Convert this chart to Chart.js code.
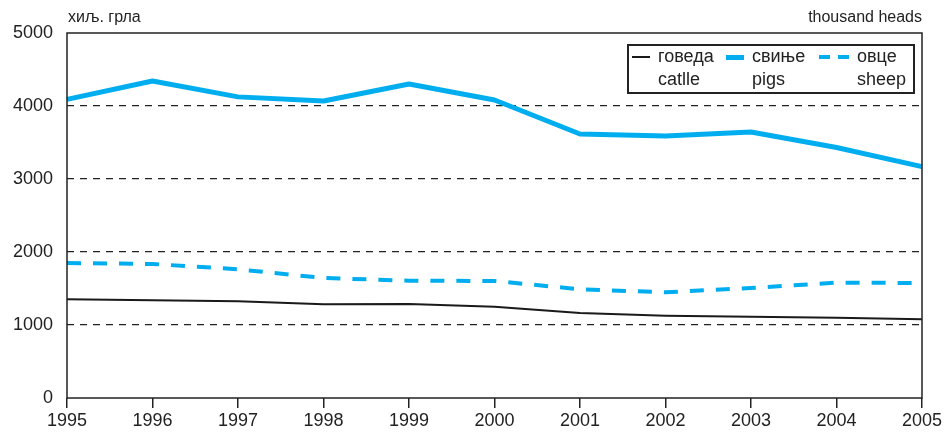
<!DOCTYPE html>
<html>
<head>
<meta charset="utf-8">
<script src="https://cdn.jsdelivr.net/npm/chart.js@4/dist/chart.umd.min.js"></script>
<style>
  html, body { margin: 0; padding: 0; background: #fff; }
  #wrap { position: relative; width: 948px; height: 437px; font-family: "Liberation Sans", Arial, sans-serif; }
  canvas { position: absolute; left: 0; top: 0; }
  .lbl { position: absolute; font-size: 16px; color: #222; white-space: nowrap; }
  #legend { position: absolute; left: 627px; top: 44px; width: 288px; height: 50px; border: 2px solid #222; box-sizing: border-box; background: #fff; }
  .li { position: absolute; top: 0; height: 100%; }
  .sw { position: absolute; }
  .t1 { position: absolute; top: 0px; font-size: 18px; color: #222; white-space: nowrap; }
  .t2 { position: absolute; top: 23px; font-size: 18px; color: #222; white-space: nowrap; }
</style>
</head>
<body>
<div id="wrap">
  <canvas id="c" width="948" height="437"></canvas>
  <div class="lbl" id="ylab" style="left:68px; top:8px;"></div>
  <div class="lbl" id="ylab2" style="right:26px; top:8px;"></div>
  <div id="legend"></div>
</div>
<script>
const years = ["1995","1996","1997","1998","1999","2000","2001","2002","2003","2004","2005"];
const cattle = [1352, 1338, 1324, 1283, 1288, 1251, 1164, 1127, 1114, 1100, 1078];
const pigs   = [4090, 4342, 4125, 4068, 4301, 4082, 3616, 3589, 3644, 3432, 3170];
const sheep  = [1849, 1836, 1763, 1644, 1607, 1603, 1489, 1448, 1507, 1580, 1575];
const seriesNamesSr = ["говеда", "свиње", "овце"];
const seriesNamesEn = ["catlle", "pigs", "sheep"];
const yTicks = [0, 1000, 2000, 3000, 4000, 5000];
const unitSr = "хиљ. грла";
const unitEn = "thousand heads";

document.getElementById('ylab').textContent = unitSr;
document.getElementById('ylab2').textContent = unitEn;

const colors = ["#1a1a1a", "#00AEEF", "#00AEEF"];
const widths = [2, 5, 4];
const dashes = [[], [], [14, 12]];

// legend
const leg = document.getElementById('legend');
const itemX = [3, 97, 190];
const swW = [18, 18, 30];
seriesNamesSr.forEach((n, i) => {
  const d = document.createElement('div');
  d.className = 'li';
  d.style.left = itemX[i] + 'px';
  const sw = document.createElement('div');
  sw.className = 'sw';
  sw.style.left = '0px';
  sw.style.width = swW[i] + 'px';
  sw.style.height = widths[i] + 'px';
  sw.style.top = (11 - widths[i] / 2) + 'px';
  if (i === 2) {
    sw.style.background = 'linear-gradient(to right,' + colors[i] + ' 0 11px, transparent 11px 19px,' + colors[i] + ' 19px 30px)';
  } else {
    sw.style.background = colors[i];
  }
  d.appendChild(sw);
  const t1 = document.createElement('div'); t1.className = 't1'; t1.textContent = n;
  const t2 = document.createElement('div'); t2.className = 't2'; t2.textContent = seriesNamesEn[i];
  const tx = swW[i] + 8;
  t1.style.left = tx + 'px'; t2.style.left = tx + 'px';
  d.appendChild(t1); d.appendChild(t2);
  leg.appendChild(d);
});

const framePlugin = {
  id: 'frame',
  afterDatasetsDraw(chart) {
    const a = chart.chartArea, ctx = chart.ctx;
    ctx.save();
    ctx.strokeStyle = '#222';
    ctx.lineWidth = 1.5;
    ctx.strokeRect(a.left, a.top, a.right - a.left, a.bottom - a.top);
    ctx.restore();
  }
};

const data = [cattle, pigs, sheep];
new Chart(document.getElementById('c'), {
  type: 'line',
  data: {
    labels: years,
    datasets: data.map((d, i) => ({
      label: seriesNamesSr[i] + ' ' + seriesNamesEn[i],
      data: d,
      borderColor: colors[i],
      borderWidth: widths[i],
      borderDash: dashes[i],
      pointRadius: 0,
      tension: 0,
      fill: false,
      borderJoinStyle: 'round'
    })).reverse()
  },
  options: {
    responsive: false,
    animation: false,
    layout: { padding: { top: 33, right: 26, left: 0, bottom: 0 } },
    plugins: { legend: { display: false }, tooltip: { enabled: false } },
    scales: {
      x: {
        offset: false,
        grid: { drawOnChartArea: false, drawTicks: true, tickLength: 10, color: '#222', lineWidth: 1.5 },
        border: { display: false },
        ticks: { color: '#222', font: { family: 'Liberation Sans', size: 18 }, padding: 2, maxRotation: 0, autoSkip: false },
        afterFit(s) { s.height = 39; }
      },
      y: {
        min: 0, max: 5000,
        afterBuildTicks(s) { s.ticks = yTicks.map(v => ({ value: v })); },
        grid: {
          drawTicks: false,
          color: ctx => (ctx.tick && (ctx.tick.value === 0 || ctx.tick.value === 5000)) ? 'rgba(0,0,0,0)' : '#222',
          lineWidth: 1.3
        },
        border: { display: false, dash: [7, 6] },
        ticks: { color: '#222', font: { family: 'Liberation Sans', size: 18 }, padding: 14, callback: v => String(v) },
        afterFit(s) { s.width = 67; }
      }
    }
  },
  plugins: [framePlugin]
});
</script>
</body>
</html>
